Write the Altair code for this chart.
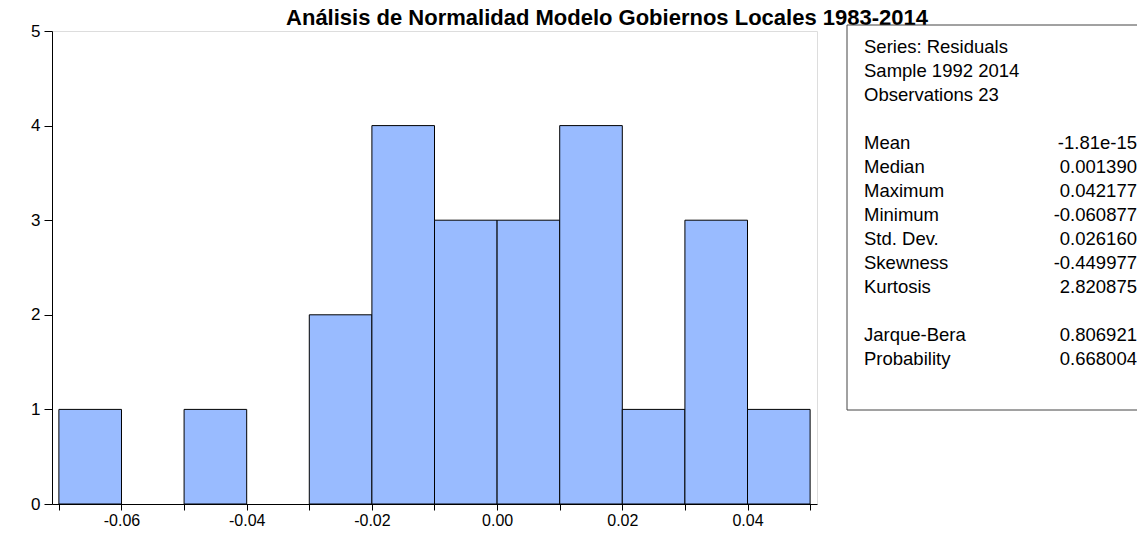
import altair as alt
import pandas as pd

# Histogram data (bin edges and counts)
bin_start = [-0.07, -0.06, -0.05, -0.04, -0.03, -0.02, -0.01, 0.00, 0.01, 0.02, 0.03, 0.04]
bin_end = [-0.06, -0.05, -0.04, -0.03, -0.02, -0.01, 0.00, 0.01, 0.02, 0.03, 0.04, 0.05]
counts = [1, 0, 1, 0, 2, 4, 3, 3, 4, 1, 3, 1]

title_text = "Análisis de Normalidad Modelo Gobiernos Locales 1983-2014"

header_lines = ["Series: Residuals", "Sample 1992 2014", "Observations 23"]
stat_names = ["Mean", "Median", "Maximum", "Minimum", "Std. Dev.", "Skewness", "Kurtosis"]
stat_values = ["-1.81e-15", "0.001390", "0.042177", "-0.060877", "0.026160", "-0.449977", "2.820875"]
test_names = ["Jarque-Bera", "Probability"]
test_values = ["0.806921", "0.668004"]

x_ticks = [-0.07, -0.06, -0.05, -0.04, -0.03, -0.02, -0.01, 0.0, 0.01, 0.02, 0.03, 0.04, 0.05]

W, H = 765, 473
FONT = "Liberation Sans"

df = pd.DataFrame({"start": bin_start, "end": bin_end, "count": counts})
df = df[df["count"] > 0]

xscale = alt.Scale(domain=[-0.0711, 0.0511], nice=False, zero=False)
yscale = alt.Scale(domain=[0, 5], nice=False)

bars = alt.Chart(df).mark_bar(
    fill="#99BBFF", stroke="black", strokeWidth=1, opacity=1
).encode(
    x=alt.X("start:Q", scale=xscale, title=None,
            axis=alt.Axis(values=x_ticks, grid=False, tickSize=6, tickColor="black",
                          domainColor="black", labelColor="black", labelFontSize=16,
                          labelFont=FONT, labelPadding=2, tickWidth=1,
                          labelExpr="abs(round(datum.value*100)) % 2 == 0 ? replace(format(datum.value, '.2f'), '\u2212', '-') : ''")),
    x2="end:Q",
    y=alt.Y("count:Q", scale=yscale, title=None,
            axis=alt.Axis(values=[0, 1, 2, 3, 4, 5], grid=False, tickSize=8, tickColor="black",
                          domainColor="black", labelColor="black", labelFontSize=17,
                          labelFont=FONT, labelPadding=4, tickWidth=1, format="d")),
    y2=alt.datum(0),
)

layers = [bars]

# Title (text mark above plot)
layers.append(alt.Chart(pd.DataFrame({"t": [title_text]})).mark_text(
    font=FONT, fontSize=22, fontWeight="bold", color="black", align="center", baseline="alphabetic"
).encode(text="t:N", x=alt.value(555), y=alt.value(-6.5)))

# Stats box
layers.append(alt.Chart(pd.DataFrame({"a": [0]})).mark_rect(
    fill="white", stroke="#444444", strokeWidth=1
).encode(x=alt.value(795), x2=alt.value(1100), y=alt.value(-6), y2=alt.value(379)))

LX = 812
RX = 1085
Y0 = 16
STEP = 24

def line(txt, x, y, align):
    return alt.Chart(pd.DataFrame({"t": [txt]})).mark_text(
        font=FONT, fontSize=18.5, color="black", align=align, baseline="middle"
    ).encode(text="t:N", x=alt.value(x), y=alt.value(y))

row = 0
for t in header_lines:
    layers.append(line(t, LX, Y0 + STEP * row, "left"))
    row += 1
row += 1
for n, v in zip(stat_names, stat_values):
    layers.append(line(n, LX, Y0 + STEP * row, "left"))
    layers.append(line(v, RX, Y0 + STEP * row, "right"))
    row += 1
row += 1
for n, v in zip(test_names, test_values):
    layers.append(line(n, LX, Y0 + STEP * row, "left"))
    layers.append(line(v, RX, Y0 + STEP * row, "right"))
    row += 1

chart = alt.layer(*layers).properties(
    width=W, height=H,
    autosize=alt.AutoSizeParams(type="none"),
    padding={"left": 44, "top": 23, "right": 320, "bottom": 25},
).configure_view(stroke="black", strokeWidth=1).configure(background="white")

chart.save("out.html", embed_options={"renderer": "svg", "actions": False})
